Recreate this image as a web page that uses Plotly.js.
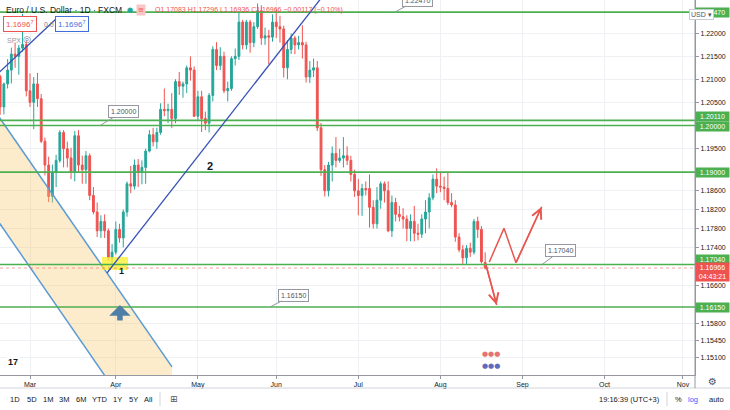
<!DOCTYPE html>
<html>
<head>
<meta charset="utf-8">
<script src="https://cdn.plot.ly/plotly-3.0.1.min.js"></script>
<style>
  html, body { margin: 0; padding: 0; background: #fff; }
  #grafico { width: 730px; height: 410px; }
</style>
</head>
<body>
<div id="grafico"></div>
<script>
// ------ VELAS EUR/USD 1D
const fechas = [
  "2021-02-17","2021-02-18","2021-02-19","2021-02-22","2021-02-23","2021-02-24","2021-02-25","2021-02-26",
  "2021-03-01","2021-03-02","2021-03-03","2021-03-04","2021-03-05","2021-03-08","2021-03-09","2021-03-10",
  "2021-03-11","2021-03-12","2021-03-15","2021-03-16","2021-03-17","2021-03-18","2021-03-19","2021-03-22",
  "2021-03-23","2021-03-24","2021-03-25","2021-03-26","2021-03-29","2021-03-30","2021-03-31","2021-04-01",
  "2021-04-02","2021-04-05","2021-04-06","2021-04-07","2021-04-08","2021-04-09","2021-04-12","2021-04-13",
  "2021-04-14","2021-04-15","2021-04-16","2021-04-19","2021-04-20","2021-04-21","2021-04-22","2021-04-23",
  "2021-04-26","2021-04-27","2021-04-28","2021-04-29","2021-04-30","2021-05-03","2021-05-04","2021-05-05",
  "2021-05-06","2021-05-07","2021-05-10","2021-05-11","2021-05-12","2021-05-13","2021-05-14","2021-05-17",
  "2021-05-18","2021-05-19","2021-05-20","2021-05-21","2021-05-24","2021-05-25","2021-05-26","2021-05-27",
  "2021-05-28","2021-05-31","2021-06-01","2021-06-02","2021-06-03","2021-06-04","2021-06-07","2021-06-08",
  "2021-06-09","2021-06-10","2021-06-11","2021-06-14","2021-06-15","2021-06-16","2021-06-17","2021-06-18",
  "2021-06-21","2021-06-22","2021-06-23","2021-06-24","2021-06-25","2021-06-28","2021-06-29","2021-06-30",
  "2021-07-01","2021-07-02","2021-07-05","2021-07-06","2021-07-07","2021-07-08","2021-07-09","2021-07-12",
  "2021-07-13","2021-07-14","2021-07-15","2021-07-16","2021-07-19","2021-07-20","2021-07-21","2021-07-22",
  "2021-07-23","2021-07-26","2021-07-27","2021-07-28","2021-07-29","2021-07-30","2021-08-02","2021-08-03",
  "2021-08-04","2021-08-05","2021-08-06","2021-08-09","2021-08-10","2021-08-11","2021-08-12","2021-08-13",
  "2021-08-16","2021-08-17","2021-08-18"
];
const apertura = [
  1.2106,1.2040,1.2090,1.2120,1.2155,1.2150,1.2168,1.2176,
  1.2075,1.2050,1.2090,1.2058,1.1966,1.1915,1.1848,1.1900,
  1.1925,1.1985,1.1950,1.1930,1.1900,1.1978,1.1915,1.1905,
  1.1935,1.1850,1.1815,1.1775,1.1795,1.1775,1.1718,1.1730,
  1.1778,1.1760,1.1815,1.1875,1.1870,1.1915,1.1900,1.1910,
  1.1945,1.1980,1.1965,1.1985,1.2035,1.2032,1.2035,1.2015,
  1.2095,1.2085,1.2090,1.2125,1.2120,1.2020,1.2062,1.2015,
  1.2005,1.2065,1.2165,1.2130,1.2150,1.2075,1.2080,1.2145,
  1.2150,1.2225,1.2175,1.2225,1.2180,1.2215,1.2250,1.2190,
  1.2195,1.2192,1.2225,1.2215,1.2210,1.2125,1.2165,1.2190,
  1.2175,1.2180,1.2175,1.2105,1.2120,1.2125,1.1995,1.1905,
  1.1860,1.1915,1.1940,1.1925,1.1930,1.1935,1.1925,1.1895,
  1.1860,1.1850,1.1865,1.1865,1.1825,1.1790,1.1840,1.1875,
  1.1860,1.1775,1.1835,1.1810,1.1805,1.1800,1.1780,1.1795,
  1.1770,1.1768,1.1800,1.1815,1.1845,1.1885,1.1870,1.1868,
  1.1865,1.1835,1.1830,1.1762,1.1735,1.1718,1.1738,1.1730,
  1.1795,1.1778,1.17083
];
const maximo = [
  1.2110,1.2093,1.2144,1.2169,1.2180,1.2175,1.2243,1.2183,
  1.2113,1.2105,1.2114,1.2068,1.1974,1.1933,1.1916,1.1937,
  1.1990,1.1990,1.1965,1.1952,1.1988,1.1990,1.1935,1.1945,
  1.1940,1.1868,1.1835,1.1808,1.1810,1.1780,1.1747,1.1795,
  1.1790,1.1820,1.1880,1.1913,1.1927,1.1928,1.1925,1.1950,
  1.1990,1.1995,1.1995,1.2048,1.2080,1.2047,1.2070,1.2100,
  1.2116,1.2095,1.2130,1.2150,1.2128,1.2075,1.2075,1.2030,
  1.2070,1.2172,1.2181,1.2170,1.2160,1.2095,1.2150,1.2167,
  1.2245,1.2230,1.2230,1.2230,1.2225,1.2266,1.2262,1.2213,
  1.2208,1.2242,1.2254,1.2239,1.2217,1.2185,1.2200,1.2195,
  1.2195,1.2218,1.2182,1.2140,1.2145,1.2140,1.2005,1.1915,
  1.1922,1.1955,1.1975,1.1950,1.1975,1.1955,1.1935,1.1905,
  1.1885,1.1875,1.1880,1.1895,1.1840,1.1868,1.1880,1.1880,
  1.1880,1.1850,1.1845,1.1828,1.1823,1.1808,1.1810,1.1828,
  1.1790,1.1810,1.1840,1.1855,1.1895,1.1908,1.1900,1.1890,
  1.1900,1.1855,1.1840,1.1770,1.1745,1.1745,1.1750,1.1800,
  1.1805,1.1785,1.17296
];
const minimo = [
  1.2023,1.2024,1.2080,1.2091,1.2125,1.2110,1.2160,1.2063,
  1.2040,1.1992,1.2040,1.1962,1.1893,1.1836,1.1835,1.1868,
  1.1920,1.1910,1.1910,1.1885,1.1880,1.1900,1.1875,1.1875,
  1.1840,1.1810,1.1762,1.1760,1.1760,1.1712,1.1704,1.1725,
  1.1750,1.1740,1.1805,1.1855,1.1863,1.1868,1.1874,1.1875,
  1.1942,1.1955,1.1950,1.1980,1.2020,1.2005,1.1995,1.2005,
  1.2066,1.2060,1.2070,1.2097,1.2018,1.2012,1.1986,1.1990,
  1.1985,1.2052,1.2120,1.2120,1.2070,1.2052,1.2075,1.2130,
  1.2142,1.2165,1.2165,1.2158,1.2170,1.2210,1.2175,1.2175,
  1.2133,1.2182,1.2190,1.2180,1.2104,1.2100,1.2155,1.2155,
  1.2165,1.2145,1.2093,1.2092,1.2105,1.1988,1.1892,1.1848,
  1.1848,1.1880,1.1910,1.1920,1.1910,1.1915,1.1880,1.1847,
  1.1808,1.1807,1.1850,1.1782,1.1780,1.1780,1.1822,1.1835,
  1.1772,1.1762,1.1795,1.1795,1.1780,1.1753,1.1753,1.1753,
  1.1755,1.1760,1.1770,1.1780,1.1840,1.1855,1.1857,1.1840,
  1.1830,1.1825,1.1752,1.1730,1.1705,1.1705,1.1720,1.1725,
  1.1760,1.1706,1.16936
];
const cierre = [
  1.2040,1.2090,1.2120,1.2155,1.2150,1.2168,1.2176,1.2075,
  1.2050,1.2090,1.2058,1.1966,1.1915,1.1848,1.1900,1.1925,
  1.1985,1.1950,1.1930,1.1900,1.1978,1.1915,1.1905,1.1935,
  1.1850,1.1815,1.1775,1.1795,1.1775,1.1718,1.1730,1.1778,
  1.1760,1.1815,1.1875,1.1870,1.1915,1.1900,1.1910,1.1945,
  1.1980,1.1965,1.1985,1.2035,1.2032,1.2035,1.2015,1.2095,
  1.2085,1.2090,1.2125,1.2120,1.2020,1.2062,1.2015,1.2005,
  1.2065,1.2165,1.2130,1.2150,1.2075,1.2080,1.2145,1.2150,
  1.2225,1.2175,1.2225,1.2180,1.2215,1.2250,1.2190,1.2195,
  1.2192,1.2225,1.2215,1.2210,1.2125,1.2165,1.2190,1.2175,
  1.2180,1.2175,1.2105,1.2120,1.2125,1.1995,1.1905,1.1860,
  1.1915,1.1940,1.1925,1.1930,1.1935,1.1925,1.1895,1.1860,
  1.1850,1.1865,1.1862,1.1825,1.1790,1.1840,1.1875,1.1860,
  1.1775,1.1835,1.1810,1.1805,1.1800,1.1780,1.1795,1.1770,
  1.1768,1.1800,1.1815,1.1845,1.1885,1.1870,1.1868,1.1865,
  1.1835,1.1830,1.1762,1.1735,1.1718,1.1738,1.1730,1.1795,
  1.1778,1.1710,1.16966
];

// ------ EJES
const rangoX = ["2021-02-17 11:00", "2021-11-04 17:45"];
const rangoYlog = [0.059714, 0.088973];
const mesesFechas = ["2021-03-01","2021-04-01","2021-05-03","2021-06-01","2021-07-01","2021-08-02","2021-09-01","2021-10-01","2021-11-01"];
const mesesTexto = ["Mar","Apr","May","Jun","Jul","Aug","Sep","Oct","Nov"];
const preciosEje = [1.151, 1.1545, 1.158, 1.166, 1.174, 1.178, 1.182, 1.186, 1.195, 1.205, 1.21, 1.215, 1.22];

// ------ DIBUJOS
const nivelesHorizontales = [1.2247, 1.2011, 1.2000, 1.1900, 1.1704, 1.1615];
const etiquetasNiveles = ["1.22470", "1.20110", "1.20000", "1.19000", "1.17040", "1.16150"];
const precioActual = 1.16966;

const tendencia1X = ["2021-02-16 03:00", "2021-03-10 11:00"];
const tendencia1Y = [1.21064, 1.22319];
const tendencia2X = ["2021-03-30 03:20", "2021-06-17 18:15"];
const tendencia2Y = [1.16862, 1.22801];

const canalX = ["2021-02-16 16:45", "2021-04-22 13:30"];
const canalSuperiorY = [1.20242, 1.14906];
const canalInferiorY = [1.17986, 1.12737];

const zonaAmarillaX = ["2021-03-26 19:10", "2021-04-06 18:30"];
const zonaAmarillaY = [1.16925, 1.17198];

const zigzagX = ["2021-08-19 14:25", "2021-08-25 13:00", "2021-08-30 18:15", "2021-09-08 15:40"];
const zigzagY = [1.17093, 1.17803, 1.17079, 1.18261];
const bajadaX = ["2021-08-18 17:20", "2021-08-23 14:10"];
const bajadaY = [1.17030, 1.16192];

const fuente = "Liberation Sans, Arial, sans-serif";
const verde = "#4caf50";
const rojo = "#ef5350";
const lg = Math.log10;
const mediodia = d => d + " 12:00";

// ------ TRAZAS
const trazas = [];

// canal paralelo
trazas.push({
  type: "scatter", mode: "lines",
  x: [canalX[0], canalX[1], canalX[1], canalX[0], canalX[0]],
  y: [canalSuperiorY[0], canalSuperiorY[1], canalInferiorY[1], canalInferiorY[0], canalSuperiorY[0]],
  fill: "toself", fillcolor: "rgba(250,200,110,0.35)", line: { width: 0 }, hoverinfo: "skip"
});
trazas.push({ type: "scatter", mode: "lines", x: canalX, y: canalSuperiorY, line: { color: "#5a9bd4", width: 1.5 }, hoverinfo: "skip" });
trazas.push({ type: "scatter", mode: "lines", x: canalX, y: canalInferiorY, line: { color: "#5a9bd4", width: 1.5 }, hoverinfo: "skip" });

// zona amarilla
trazas.push({
  type: "scatter", mode: "lines",
  x: [zonaAmarillaX[0], zonaAmarillaX[1], zonaAmarillaX[1], zonaAmarillaX[0], zonaAmarillaX[0]],
  y: [zonaAmarillaY[0], zonaAmarillaY[0], zonaAmarillaY[1], zonaAmarillaY[1], zonaAmarillaY[0]],
  fill: "toself", fillcolor: "rgba(250,238,40,0.75)", line: { width: 0 }, hoverinfo: "skip"
});

// velas
trazas.push({
  type: "candlestick",
  x: fechas.map(mediodia),
  open: apertura, high: maximo, low: minimo, close: cierre,
  increasing: { line: { color: "#26a69a", width: 1 }, fillcolor: "#26a69a" },
  decreasing: { line: { color: rojo, width: 1 }, fillcolor: rojo },
  hoverinfo: "skip"
});

// niveles horizontales
nivelesHorizontales.forEach(nivel => {
  trazas.push({ type: "scatter", mode: "lines", x: rangoX, y: [nivel, nivel], line: { color: verde, width: 1.6 }, hoverinfo: "skip" });
});
trazas.push({ type: "scatter", mode: "lines", x: rangoX, y: [precioActual, precioActual], line: { color: "rgba(239,83,80,0.55)", width: 1, dash: "dot" }, hoverinfo: "skip" });

// lineas de tendencia
trazas.push({ type: "scatter", mode: "lines", x: tendencia1X, y: tendencia1Y, line: { color: "#3650b5", width: 1.3 }, hoverinfo: "skip" });
trazas.push({ type: "scatter", mode: "lines", x: tendencia2X, y: tendencia2Y, line: { color: "#3650b5", width: 1.3 }, hoverinfo: "skip" });

// flechas rojas
trazas.push({ type: "scatter", mode: "lines", x: zigzagX, y: zigzagY, line: { color: "#e8564f", width: 1.5 }, hoverinfo: "skip" });
trazas.push({ type: "scatter", mode: "lines", x: bajadaX, y: bajadaY, line: { color: "#e8564f", width: 1.5 }, hoverinfo: "skip" });

// ------ ANOTACIONES
const px = p => p / 695;
const py = p => 1 - p / 375;
const anot = [];

function texto(x, y, t, tam, color, extra) {
  anot.push(Object.assign({
    xref: "paper", yref: "paper", x: px(x), y: py(y), text: t, showarrow: false,
    xanchor: "left", yanchor: "middle", font: { family: fuente, size: tam, color: color }
  }, extra || {}));
}

// etiquetas precio eje derecho
function etiquetaEje(precio, t, fondo, desplazar, alto) {
  anot.push({
    xref: "paper", yref: "y", x: 1, y: lg(precio), xanchor: "left", yanchor: "middle",
    yshift: desplazar, text: t, showarrow: false, bgcolor: fondo, width: 33, height: alto || 9,
    borderpad: 0, font: { family: fuente, size: 7, color: "#fff" }
  });
}
etiquetaEje(nivelesHorizontales[0], etiquetasNiveles[0], verde, 0);
etiquetaEje(nivelesHorizontales[1], etiquetasNiveles[1], verde, 3.5);
etiquetaEje(nivelesHorizontales[2], etiquetasNiveles[2], verde, -0.5);
etiquetaEje(nivelesHorizontales[3], etiquetasNiveles[3], verde, 0);
etiquetaEje(nivelesHorizontales[4], etiquetasNiveles[4], verde, 5.5);
etiquetaEje(precioActual, "1.16966<br>04:43:21", rojo, -4, 18);
etiquetaEje(nivelesHorizontales[5], etiquetasNiveles[5], verde, 0);
anot.push({
  xref: "paper", yref: "paper", x: px(714), y: py(9), text: "USD ▾", showarrow: false,
  bgcolor: "#fff", bordercolor: "#c9ccd3", borderwidth: 1, borderpad: 1,
  font: { family: fuente, size: 7, color: "#50535e" }
});

// etiquetas con puntero sobre el grafico
function etiquetaPuntero(fecha, precio, t, dx, dy) {
  anot.push({
    xref: "x", yref: "y", x: fecha, y: lg(precio), text: t, showarrow: true, arrowhead: 0,
    arrowcolor: "#9598a1", arrowwidth: 1, ax: dx, ay: dy, bgcolor: "#fff", bordercolor: "#9598a1",
    borderwidth: 1, borderpad: 2, font: { family: fuente, size: 7, color: "#50535e" }
  });
}
etiquetaPuntero("2021-03-26 06:15", nivelesHorizontales[2], etiquetasNiveles[2], 23, -14);
etiquetaPuntero("2021-09-08 17:30", nivelesHorizontales[4], etiquetasNiveles[4], 19, -14);
etiquetaPuntero("2021-05-28 20:00", nivelesHorizontales[5], etiquetasNiveles[5], 23, -12);
etiquetaPuntero("2021-07-15 08:00", nivelesHorizontales[0], etiquetasNiveles[0], 22, -17);

// numeros 1 y 2
anot.push({ xref: "x", yref: "y", x: "2021-05-06 18:00", y: lg(1.1913), text: "<b>2</b>", showarrow: false, font: { family: fuente, size: 11, color: "#131722" } });
anot.push({ xref: "x", yref: "y", x: "2021-04-02 21:20", y: lg(1.1690), text: "<b>1</b>", showarrow: false, font: { family: fuente, size: 9, color: "#131722" } });

// flecha azul hacia arriba
anot.push({
  xref: "x", yref: "y", x: "2021-04-02 14:30", y: lg(1.16192), text: "", showarrow: true,
  arrowhead: 1, arrowwidth: 5.5, arrowsize: 0.65, arrowcolor: "#4f7fa6", ax: 0, ay: 17
});

// puntas de flechas rojas
anot.push({
  xref: "x", yref: "y", x: zigzagX[3], y: lg(zigzagY[3]), text: "", showarrow: true,
  arrowhead: 5, arrowwidth: 1.5, arrowsize: 1.3, arrowcolor: "#e8564f", ax: -25.7, ay: 56
});
anot.push({
  xref: "x", yref: "y", x: bajadaX[1], y: lg(bajadaY[1]), text: "", showarrow: true,
  arrowhead: 5, arrowwidth: 1.5, arrowsize: 1.3, arrowcolor: "#e8564f", ax: -10.7, ay: -40
});

// leyenda superior
texto(4, 10, "Euro / U.S. Dollar · 1D · FXCM", 8.5, "#131722");
texto(125, 10, "●", 7, "#26a69a", { font: { family: "DejaVu Sans", size: 7, color: "#26a69a" } });
texto(136, 10, "≡", 7, rojo, { bgcolor: "#f9c6c5", font: { family: "DejaVu Sans", size: 7, color: rojo } });
texto(153, 10, "O1.17083 H1.17296 L1.16936 C1.16966 −0.00117 (−0.10%)", 7, rojo);
texto(3, 24, "1.1696<sup>7</sup>", 8, rojo, { bordercolor: rojo, borderwidth: 1, borderpad: 2, bgcolor: "#fff" });
texto(42, 24, "0.0", 7, "#787b86");
texto(55, 24, "1.1696<sup>7</sup>", 8, "#3f6fd8", { bordercolor: "#3f6fd8", borderwidth: 1, borderpad: 2, bgcolor: "#fff" });
texto(5, 40, "SPX", 7, "#9598a1");
texto(21, 39, "◎", 9, "#787b86", { font: { family: "DejaVu Sans", size: 9, color: "#787b86" } });

// logo
texto(6, 362, "<b>17</b>", 9, "#131722", { bgcolor: "#fff" });

// iconos de eventos
texto(480, 354, "●●●", 7, "#e57373", { font: { family: "DejaVu Sans", size: 7, color: "#e57373" } });
texto(480, 366, "●●●", 7, "#5c6bc0", { font: { family: "DejaVu Sans", size: 7, color: "#5c6bc0" } });

// barra inferior
const botonesRango = ["1D", "5D", "1M", "3M", "6M", "YTD", "1Y", "5Y", "All"];
const botonesPos = [8, 25, 41, 57, 74, 90, 111, 127, 142];
botonesRango.forEach((b, i) => texto(botonesPos[i], 399, b, 7.5, "#131722"));
texto(168, 399, "⊞", 9, "#50535e", { font: { family: "DejaVu Sans", size: 9, color: "#50535e" } });
texto(597, 399, "19:16:39 (UTC+3)", 7.5, "#131722");
texto(673, 399, "%", 7.5, "#131722");
texto(686, 399, "log", 7.5, "#2962ff");
texto(707, 399, "auto", 7.5, "#131722");
texto(706, 381, "⚙", 10, "#50535e", { font: { family: "DejaVu Sans", size: 10, color: "#50535e" } });

// ------ LAYOUT
const lineaGris = "#d1d4dc";
const layout = {
  width: 730, height: 410,
  margin: { l: 0, r: 35, t: 0, b: 35 },
  paper_bgcolor: "#fff", plot_bgcolor: "#fff",
  showlegend: false, hovermode: false, dragmode: false,
  font: { family: fuente, size: 7, color: "#131722" },
  xaxis: {
    type: "date", range: rangoX, rangebreaks: [{ bounds: ["sat", "mon"] }],
    tickmode: "array", tickvals: mesesFechas.map(mediodia), ticktext: mesesTexto,
    tickfont: { family: fuente, size: 7, color: "#131722" },
    showgrid: true, gridcolor: "#eef0f4", gridwidth: 1,
    showline: true, linecolor: "#9598a1", linewidth: 1,
    ticks: "outside", ticklen: 3, tickcolor: "#9598a1",
    zeroline: false, rangeslider: { visible: false }, fixedrange: true, automargin: false
  },
  yaxis: {
    type: "log", range: rangoYlog, side: "right",
    tickmode: "array", tickvals: preciosEje, ticktext: preciosEje.map(v => v.toFixed(5)),
    tickfont: { family: fuente, size: 7, color: "#131722" },
    showgrid: true, gridcolor: "#eef0f4", gridwidth: 1,
    showline: true, linecolor: "#9598a1", linewidth: 1,
    ticks: "outside", ticklen: 3, tickcolor: "#9598a1",
    zeroline: false, fixedrange: true, automargin: false
  },
  shapes: [
    { type: "line", xref: "paper", yref: "paper", x0: 0, x1: 730 / 695, y0: py(388), y1: py(388), line: { color: lineaGris, width: 1 } },
    { type: "line", xref: "paper", yref: "paper", x0: 1, x1: 1, y0: py(388), y1: 1, line: { color: "#9598a1", width: 1 } },
    { type: "line", xref: "paper", yref: "paper", x0: px(160), x1: px(160), y0: py(392), y1: py(406), line: { color: lineaGris, width: 1 } },
    { type: "line", xref: "paper", yref: "paper", x0: px(667), x1: px(667), y0: py(392), y1: py(406), line: { color: lineaGris, width: 1 } }
  ],
  annotations: anot
};

Plotly.newPlot("grafico", trazas, layout, { staticPlot: true, displayModeBar: false });
</script>
</body>
</html>
